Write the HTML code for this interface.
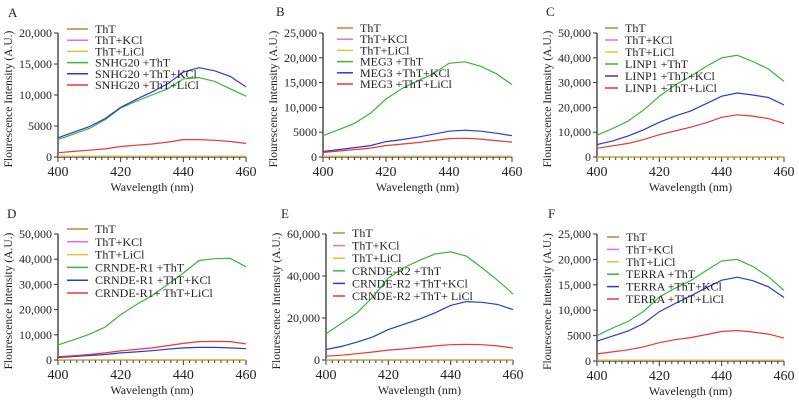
<!DOCTYPE html>
<html><head><meta charset="utf-8"><style>
body{margin:0;background:#fff;}
svg{display:block;font-family:"Liberation Serif",serif;}
</style></head><body>
<svg id="c" width="799" height="403" viewBox="0 0 799 403"></svg>
<script>
const wavelengths=[400,405,410,415,420,425,430,435,440,445,450,455,460];
const seriesNames=["ThT","ThT+KCl","ThT+LiCl","+ThT","+ThT+KCl","+ThT+LiCl"];
const colors=["#c8803c","#e070e0","#d8c840","#3cb43c","#2a38d8","#e83838"];
const baseline=[150,150,150,150,150,150,150,150,150,150,150,150,150];
const aGreen=[2800,3700,4600,6000,7900,9000,10000,11000,12600,12800,12200,11000,9800];
const aBlue=[3100,4000,4900,6200,8000,9300,10500,11800,13700,14400,13900,13000,11300];
const aRed=[700,900,1100,1300,1700,1900,2100,2400,2800,2800,2700,2500,2200];
const bGreen=[4300,5500,6800,8800,11700,13800,15300,16800,18900,19200,18300,16800,14600];
const bBlue=[1100,1500,1900,2300,3100,3500,4000,4600,5200,5400,5200,4800,4300];
const bRed=[900,1200,1500,1800,2300,2600,2900,3300,3700,3800,3600,3300,3000];
const cGreen=[8800,11500,14500,19000,24500,29000,32500,36500,40000,41000,38500,35500,30500];
const cBlue=[5000,6500,8500,11000,14000,16500,18500,21500,24500,25800,25000,24000,21000];
const cRed=[3500,4500,5500,7000,9000,10500,12000,13800,16000,17000,16500,15500,13500];
const dGreen=[6000,8000,10200,13000,18000,22000,25500,30000,34500,39500,40200,40300,37000];
const dBlue=[1000,1400,1800,2200,2800,3200,3700,4300,4800,5000,5000,4800,4500];
const dRed=[1300,1700,2200,2800,3600,4200,4800,5700,6600,7300,7400,7300,6400];
const eGreen=[12500,17500,22500,30000,39000,44000,47500,50500,51500,49500,44000,38000,31500];
const eBlue=[5000,6500,8500,11000,14500,17000,19500,22500,26000,27800,27500,26500,24000];
const eRed=[1800,2300,3000,3800,4700,5300,6000,6700,7300,7500,7300,6700,5700];
const fGreen=[5000,6500,7800,9800,12600,14300,15800,17800,19700,20000,18600,16600,13900];
const fBlue=[3900,4900,5900,7400,9700,11300,12800,14400,15900,16500,15800,14600,12500];
const fRed=[1400,1800,2200,2800,3600,4200,4600,5200,5800,6000,5700,5300,4500];
const xTicks=[400,420,440,460];
const aTicks=[0,5000,10000,15000,20000];
const bTicks=[0,5000,10000,15000,20000,25000];
const cTicks=[0,10000,20000,30000,40000,50000];
const eTicks=[0,20000,40000,60000];
const legA=["ThT","ThT+KCl","ThT+LiCl","SNHG20 +ThT","SNHG20 +ThT+KCl","SNHG20 +ThT+LiCl"];
const legB=["ThT","ThT+KCl","ThT+LiCl","MEG3 +ThT","MEG3 +ThT+KCl","MEG3 +ThT+LiCl"];
const legC=["ThT","ThT+KCl","ThT+LiCl","LINP1 +ThT","LINP1 +ThT+KCl","LINP1 +ThT+LiCl"];
const legD=["ThT","ThT+KCl","ThT+LiCl","CRNDE-R1 +ThT","CRNDE-R1 +ThT+KCl","CRNDE-R1+ ThT+LiCl"];
const legE=["ThT","ThT+KCl","ThT+LiCl","CRNDE-R2 +ThT","CRNDE-R2 +ThT+KCl","CRNDE-R2 +ThT+ LiCl"];
const legF=["ThT","ThT+KCl","ThT+LiCl","TERRA +ThT","TERRA +ThT+KCl","TERRA +ThT+LiCl"];

const panels=[
 {id:"a",letter:"A",lx:8,ly:17,x0:58,x1:246,yT:33,yB:157,ymax:20000,ticks:aTicks,data:[aGreen,aBlue,aRed],leg:legA,legX:67,legY:29,legDy:11.2,legW:21},
 {id:"b",letter:"B",lx:276,ly:16,x0:323,x1:512,yT:33,yB:157,ymax:25000,ticks:bTicks,data:[bGreen,bBlue,bRed],leg:legB,legX:337,legY:28,legDy:11.2,legW:16},
 {id:"c",letter:"C",lx:546,ly:16,x0:597,x1:784,yT:33,yB:157,ymax:50000,ticks:cTicks,data:[cGreen,cBlue,cRed],leg:legC,legX:605,legY:28,legDy:12,legW:13},
 {id:"d",letter:"D",lx:7,ly:218,x0:58,x1:246,yT:234,yB:360,ymax:50000,ticks:cTicks,data:[dGreen,dBlue,dRed],leg:legD,legX:67,legY:229,legDy:12.8,legW:21},
 {id:"e",letter:"E",lx:281,ly:218,x0:326,x1:513,yT:234,yB:360,ymax:60000,ticks:eTicks,data:[eGreen,eBlue,eRed],leg:legE,legX:333,legY:233,legDy:12.6,legW:12},
 {id:"f",letter:"F",lx:548,ly:218,x0:597,x1:784,yT:234,yB:361,ymax:25000,ticks:bTicks,data:[fGreen,fBlue,fRed],leg:legF,legX:607,legY:237,legDy:12.4,legW:12}
];
const NS="http://www.w3.org/2000/svg";
const svg=document.getElementById("c");
function mk(tag,attrs,parent,text){const e=document.createElementNS(NS,tag);for(const k in attrs)e.setAttribute(k,attrs[k]);if(text!==undefined)e.textContent=text;parent.appendChild(e);return e;}
function fmt(v){return v<10000?String(v):v.toLocaleString("en-US");}
panels.forEach(p=>{
 const g=mk("g",{},svg);
 
 
 const xs=v=>p.x0+(v-400)/60*(p.x1-p.x0);
 const ys=v=>p.yB-v/p.ymax*(p.yB-p.yT);
 const L=mk("text",{x:p.lx,y:p.ly,"font-size":13,fill:"#222"},g,p.letter);
 
 
 const ax=mk("path",{d:`M${p.x0},${p.yT}V${p.yB}H${p.x1}`,stroke:"#333","stroke-width":1.3,fill:"none"},g);
 
 
 for(let w=400;w<=460;w+=2){const major=(w-400)%20===0;mk("line",{x1:xs(w),x2:xs(w),y1:p.yB,y2:p.yB+(major?5:3),stroke:"#333","stroke-width":1},g);}
 xTicks.forEach(t=>{const tl=mk("text",{x:xs(t),y:p.yB+19,"font-size":14,"text-anchor":"middle",fill:"#222"},g,String(t));
  
  });
 p.ticks.forEach(t=>{mk("line",{x1:p.x0-4,x2:p.x0,y1:ys(t),y2:ys(t),stroke:"#333","stroke-width":1},g);
  const tl=mk("text",{x:p.x0-6,y:ys(t)+4,"font-size":12,"text-anchor":"end",fill:"#222"},g,fmt(t));
  
  });
 const xt=mk("text",{x:(p.x0+p.x1)/2,y:p.yB+34,"font-size":12,"text-anchor":"middle",fill:"#222"},g,"Wavelength (nm)");
 
 
 const cy=(p.yT+p.yB)/2+4, cx=p.x0-46;
 const yt=mk("text",{x:cx,y:cy,"font-size":11.5,"text-anchor":"middle",fill:"#222",transform:`rotate(-90 ${cx} ${cy})`},g,"Flourescence Intensity (A.U.)");
 
 
 const all=[baseline,baseline,baseline].concat(p.data);
 all.forEach((arr,i)=>{
  const d=arr.map((v,j)=>(j?"L":"M")+xs(wavelengths[j]).toFixed(1)+","+ys(v).toFixed(1)).join("");
  const pl=mk("path",{d,stroke:colors[i],"stroke-width":1.2,fill:"none"},g);
  
  
 });
 p.leg.forEach((name,i)=>{
  const y=p.legY+i*p.legDy;
  const ln=mk("line",{x1:p.legX,x2:p.legX+p.legW,y1:y,y2:y,stroke:colors[i],"stroke-width":1.5},g);
  
  
  const tx=mk("text",{x:p.legX+p.legW+7,y:y+4,"font-size":12,fill:"#222"},g,name);
  
  
 });
});
</script>
</body></html>
